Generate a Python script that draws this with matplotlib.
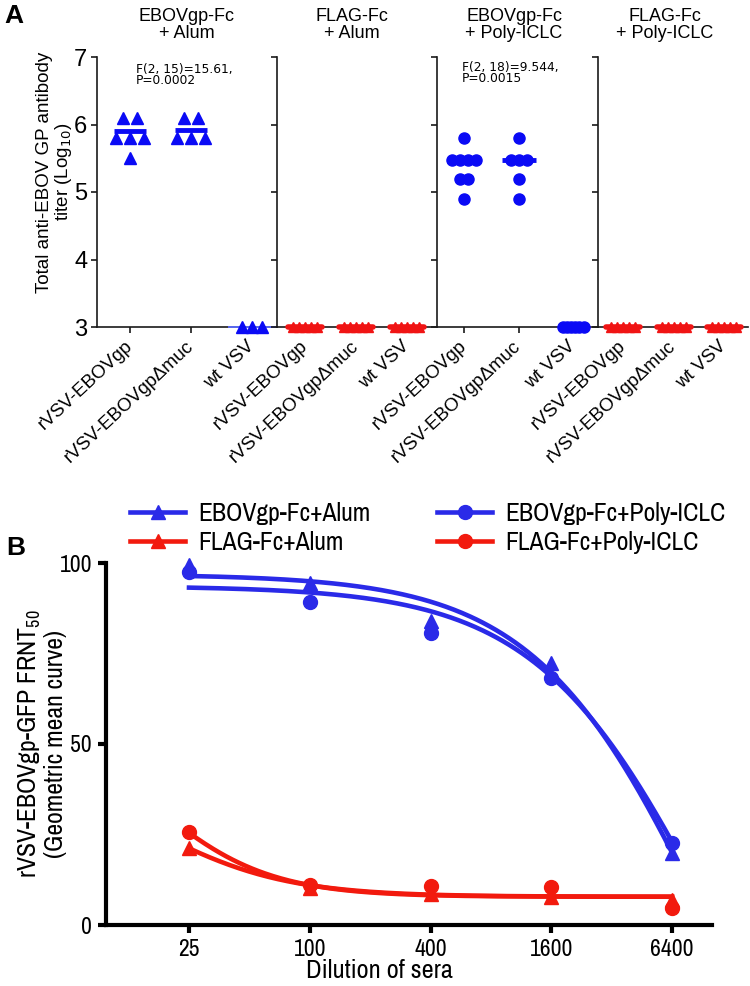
import numpy as np
import matplotlib
matplotlib.use('Agg')
import matplotlib.pyplot as plt
import matplotlib.transforms as mtransforms
from matplotlib.lines import Line2D

plt.rcParams['font.family'] = ['Liberation Sans', 'DejaVu Sans']
plt.rcParams['mathtext.fontset'] = 'custom'
plt.rcParams['mathtext.rm'] = 'Archivo Narrow'
plt.rcParams['mathtext.it'] = 'Archivo Narrow:italic'
plt.rcParams['mathtext.bf'] = 'Archivo Narrow:bold'
NARROW = ['Archivo Narrow', 'Liberation Sans', 'DejaVu Sans']

# ---------------- Panel A data ----------------
panel_titles = ['EBOVgp-Fc\n+ Alum', 'FLAG-Fc\n+ Alum',
                'EBOVgp-Fc\n+ Poly-ICLC', 'FLAG-Fc\n+ Poly-ICLC']
virus_labels = ['rVSV-EBOVgp', 'rVSV-EBOVgp\u0394muc', 'wt VSV']
stats_text = ['F(2, 15)=15.61,\nP=0.0002', '', 'F(2, 18)=9.544,\nP=0.0015', '']

alum_ebov = [[6.1, 6.1, 5.8, 5.8, 5.8, 5.5], [6.1, 6.1, 5.8, 5.8, 5.8], [3, 3, 3]]
alum_flag = [[3, 3, 3, 3, 3], [3, 3, 3, 3, 3], [3, 3, 3, 3, 3]]
poly_ebov = [[5.8, 5.48, 5.48, 5.48, 5.48, 5.2, 5.2, 4.9],
             [5.8, 5.48, 5.48, 5.48, 5.2, 4.9], [3, 3, 3, 3, 3, 3]]
poly_flag = [[3, 3, 3, 3, 3], [3, 3, 3, 3, 3], [3, 3, 3, 3, 3]]
alum_ebov_mean = [5.91, 5.92, 3.0]
alum_flag_mean = [3.0, 3.0, 3.0]
poly_ebov_mean = [5.46, 5.48, 3.0]
poly_flag_mean = [3.0, 3.0, 3.0]

# ---------------- Panel B data ----------------
dilutions = [25, 100, 400, 1600, 6400]
ebov_alum = [99.4, 94.5, 84.0, 72.4, 19.8]
ebov_poly = [97.5, 89.2, 80.7, 68.2, 22.6]
flag_alum = [21.2, 10.2, 8.5, 7.8, 7.0]
flag_poly = [25.8, 11.0, 10.7, 10.6, 4.6]
# fitted curve parameters (top, bottom, IC50, hill) read from the drawn fits
fit_ebov_alum = (96.9, -100.1, 10000.0, 1.0)
fit_ebov_poly = (93.65, -87.4, 10000.0, 1.0)
fit_flag_alum = (45.0, 7.8, 16.0, 1.29)
fit_flag_poly = (60.0, 7.8, 15.9, 1.48)
legend_labels = ['EBOVgp-Fc+Alum', 'FLAG-Fc+Alum', 'EBOVgp-Fc+Poly-ICLC', 'FLAG-Fc+Poly-ICLC']

BLUE = '#0a0af5'
RED = '#f01414'
BLUE_B = '#2a2ae8'
RED_B = '#f21a0e'

W, H = 750, 986
fig = plt.figure(figsize=(W / 100, H / 100), dpi=100)


def add_ax(x0, y0, x1, y1):
    return fig.add_axes([x0 / W, 1 - y1 / H, (x1 - x0) / W, (y1 - y0) / H])


# ---------------- Panel A ----------------
panel_px = [(97, 277), (277, 437), (437, 598), (598, 748)]
cat_px = [(130, 252), (305, 407), (464, 573), (623, 724)]
A_top, A_bot = 57, 327

panel_data = [(alum_ebov, alum_ebov_mean, '^', BLUE),
              (alum_flag, alum_flag_mean, '^', RED),
              (poly_ebov, poly_ebov_mean, 'o', BLUE),
              (poly_flag, poly_flag_mean, '^', RED)]


def swarm(ax, xpos, vals, marker, color, ms, spacing):
    vals = list(vals)
    uniq = []
    for v in vals:
        if v not in uniq:
            uniq.append(v)
    for v in uniq:
        n = vals.count(v)
        offs = (np.arange(n) - (n - 1) / 2) * spacing
        for dx in offs:
            tr = ax.transData + mtransforms.ScaledTranslation(dx / 100, 0, fig.dpi_scale_trans)
            ax.plot([xpos], [v], marker=marker, color=color, ms=ms, mec=color,
                    transform=tr, clip_on=False, zorder=4, linestyle='none')


for p in range(4):
    x0, x1 = panel_px[p]
    c1, c3 = cat_px[p]
    scale = (c3 - c1) / 2.0
    xmin = 1 - (c1 - x0) / scale
    xmax = xmin + (x1 - x0) / scale
    ax = add_ax(x0, A_top, x1, A_bot)
    ax.set_xlim(xmin, xmax)
    ax.set_ylim(3, 7)
    for s in ['top', 'right']:
        ax.spines[s].set_visible(False)
    for s in ['left', 'bottom']:
        ax.spines[s].set_linewidth(1.2)
        ax.spines[s].set_color('#1a1a1a')
    ax.set_yticks([3, 4, 5, 6, 7])
    ax.tick_params(axis='y', length=4, width=1.2, color='#1a1a1a', labelsize=17, pad=3)
    if p > 0:
        ax.set_yticklabels([])
    ax.set_xticks([1, 2, 3])
    ax.tick_params(axis='x', length=4, width=1.2, color='#1a1a1a', pad=8)
    ax.set_xticklabels(virus_labels, rotation=43, ha='right', va='center',
                       rotation_mode='anchor', fontsize=13.5)
    ax.patch.set_alpha(0)

    groups, means, marker, color = panel_data[p]
    for i in range(3):
        vals = groups[i]
        xpos = i + 1
        if vals[0] == 3:
            if color == RED:
                swarm(ax, xpos, vals, '^', color, 6.5, 6)
                hw = 17 / scale
                ax.plot([xpos - hw, xpos + hw], [means[i], means[i]], color=color, lw=4,
                        clip_on=False, zorder=3, solid_capstyle='round')
            elif marker == 'o':
                swarm(ax, xpos, vals, 'o', color, 8, 4.2)
            else:
                swarm(ax, xpos, vals, '^', color, 8, 10)
                hw = 23 / scale
                ax.plot([xpos - hw, xpos + hw], [means[i], means[i]], color='#5a6af0', lw=1.4,
                        clip_on=False, zorder=3)
        else:
            if marker == '^':
                swarm(ax, xpos, vals, '^', color, 9, 14)
                hw = 16 / scale
            else:
                swarm(ax, xpos, vals, 'o', color, 8, 8)
                hw = 17 / scale
            ax.plot([xpos - hw, xpos + hw], [means[i], means[i]], color=color, lw=3.5,
                    solid_capstyle='butt', clip_on=False, zorder=5)

title_cx = [187, 352, 514, 665]
for p in range(4):
    fig.text(title_cx[p] / W, 1 - 25 / H, panel_titles[p], ha='center', va='center',
             fontsize=13, linespacing=0.98)
fig.text(136 / W, 1 - 75 / H, stats_text[0], ha='left', va='center', fontsize=8.8,
         linespacing=0.88, family='DejaVu Sans')
fig.text(462 / W, 1 - 73 / H, stats_text[2], ha='left', va='center', fontsize=8.8,
         linespacing=0.88, family='DejaVu Sans')

fig.text(55 / W, 1 - 172 / H, 'Total anti-EBOV GP antibody\ntiter (Log$_{10}$)',
         rotation=90, ha='center', va='center', fontsize=13.5, linespacing=1.05,
         math_fontfamily='dejavusans')
fig.text(4 / W, 1 - 16 / H, 'A', fontsize=19, fontweight='bold', ha='left', va='center')

# ---------------- Panel B ----------------
Bx0, Bx1, By0, By1 = 106, 712, 563, 925
axb = add_ax(Bx0, By0, Bx1, By1)
px_per4 = 120.75
x25_px = 189
axb.set_xscale('log')
axb.set_xlim(dilutions[0] * 4 ** ((Bx0 - x25_px) / px_per4),
             dilutions[0] * 4 ** ((Bx1 - x25_px) / px_per4))
axb.set_ylim(0, 100)
for s in ['top', 'right']:
    axb.spines[s].set_visible(False)
for s in ['left', 'bottom']:
    axb.spines[s].set_linewidth(3)
    axb.spines[s].set_color('black')
axb.set_xticks(dilutions)
axb.set_xticklabels([str(d) for d in dilutions], family=NARROW)
axb.minorticks_off()
axb.set_yticks([0, 50, 100])
axb.set_yticklabels(['0', '50', '100'], family=NARROW)
axb.tick_params(axis='both', length=6, width=3, labelsize=17, pad=4)
axb.set_xlabel('Dilution of sera', fontsize=19, family=NARROW)
axb.xaxis.set_label_coords((379 - Bx0) / (Bx1 - Bx0), -0.095)
axb.xaxis.label.set_va('top')
axb.patch.set_alpha(0)


def logistic(x, params):
    top, bottom, ic50, hill = params
    return bottom + (top - bottom) / (1 + (x / ic50) ** hill)


xf = np.logspace(np.log10(dilutions[0]), np.log10(dilutions[-1]), 300)
series = [(ebov_alum, fit_ebov_alum, '^', BLUE_B),
          (flag_alum, fit_flag_alum, '^', RED_B),
          (ebov_poly, fit_ebov_poly, 'o', BLUE_B),
          (flag_poly, fit_flag_poly, 'o', RED_B)]
handles = []
for vals, fit, mk, col in series:
    axb.plot(xf, logistic(xf, fit), color=col, lw=3.3, zorder=3, clip_on=False)
    axb.plot(dilutions, vals, linestyle='none', marker=mk, ms=10, color=col, mec=col,
             zorder=4, clip_on=False)
    handles.append(Line2D([0], [0], color=col, lw=3.3, marker=mk, ms=10, mec=col))

fig.legend(handles, legend_labels, loc='upper left', bbox_to_anchor=(130 / W, 1 - 502 / H),
           ncol=2, frameon=False, prop={'family': NARROW, 'size': 18.5},
           handlelength=2.15, handletextpad=0.5, columnspacing=2.6, labelspacing=0.22,
           borderpad=0, borderaxespad=0)

fig.text(42 / W, 1 - 744 / H, 'rVSV-EBOVgp-GFP FRNT$_{\\mathbf{50}}$\n(Geometric mean curve)',
         rotation=90, ha='center', va='center', fontsize=18.5, linespacing=1.05, family=NARROW)
fig.text(6 / W, 1 - 548 / H, 'B', fontsize=19, fontweight='bold', ha='left', va='center')

fig.savefig('out.png', dpi=100)
